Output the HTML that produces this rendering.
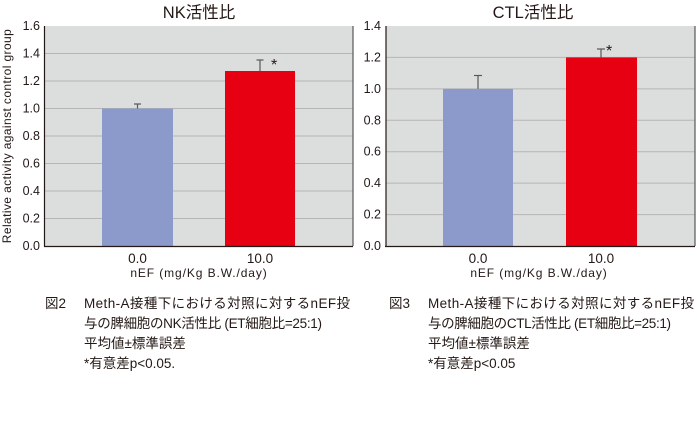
<!DOCTYPE html>
<html><head><meta charset="utf-8"><style>
body{margin:0;background:#fff;width:697px;height:422px;overflow:hidden}
svg text{font-family:"Liberation Sans","Noto Sans CJK JP",sans-serif;fill:#231815}
</style></head><body>
<svg width="697" height="422" viewBox="0 0 697 422" xmlns="http://www.w3.org/2000/svg">
<!-- Left chart -->
<rect x="45" y="26" width="308" height="220" fill="#dcdddd"/>
<g stroke="#b5b5b6" stroke-width="1">
<line x1="45" y1="53.5" x2="353" y2="53.5"/><line x1="45" y1="81" x2="353" y2="81"/>
<line x1="45" y1="108.5" x2="353" y2="108.5"/><line x1="45" y1="136" x2="353" y2="136"/>
<line x1="45" y1="163.5" x2="353" y2="163.5"/><line x1="45" y1="191" x2="353" y2="191"/>
<line x1="45" y1="218.5" x2="353" y2="218.5"/>
</g>
<line x1="353" y1="26" x2="353" y2="246" stroke="#595757" stroke-width="1.2"/>
<rect x="102" y="108.5" width="71" height="137.5" fill="#8b9acb"/>
<rect x="225" y="71" width="70" height="175" fill="#e60012"/>
<g stroke="#595757" stroke-width="1.2">
<line x1="137.5" y1="104" x2="137.5" y2="108.5"/><line x1="134" y1="104" x2="141" y2="104"/>
<line x1="260" y1="60" x2="260" y2="71"/><line x1="256.5" y1="60" x2="263.5" y2="60"/>
</g>
<text x="271" y="70" font-size="16">*</text>
<line x1="44.5" y1="26" x2="44.5" y2="246.5" stroke="#231815" stroke-width="1.2"/>
<line x1="44" y1="246.5" x2="353" y2="246.5" stroke="#231815" stroke-width="1.2"/>
<g font-size="12.5" text-anchor="end">
<text x="40" y="30">1.6</text><text x="40" y="57.5">1.4</text><text x="40" y="85">1.2</text>
<text x="40" y="112.5">1.0</text><text x="40" y="140">0.8</text><text x="40" y="167.5">0.6</text>
<text x="40" y="195">0.4</text><text x="40" y="222.5">0.2</text><text x="40" y="250">0.0</text>
</g>
<text x="199" y="18" font-size="16.5" text-anchor="middle">NK活性比</text>
<text x="137.5" y="263" font-size="13.5" text-anchor="middle">0.0</text>
<text x="260" y="263" font-size="13.5" text-anchor="middle">10.0</text>
<text x="199" y="277" font-size="12" letter-spacing="0.9" text-anchor="middle">nEF (mg/Kg B.W./day)</text>
<text transform="translate(11,136) rotate(-90)" font-size="12" letter-spacing="0.4" text-anchor="middle">Relative activity against control group</text>

<!-- Right chart -->
<rect x="386" y="26" width="309" height="220" fill="#dcdddd"/>
<g stroke="#b5b5b6" stroke-width="1">
<line x1="386" y1="57.4" x2="695" y2="57.4"/><line x1="386" y1="88.9" x2="695" y2="88.9"/>
<line x1="386" y1="120.3" x2="695" y2="120.3"/><line x1="386" y1="151.7" x2="695" y2="151.7"/>
<line x1="386" y1="183.1" x2="695" y2="183.1"/><line x1="386" y1="214.6" x2="695" y2="214.6"/>
</g>
<line x1="695" y1="26" x2="695" y2="246" stroke="#595757" stroke-width="1.2"/>
<rect x="443" y="88.9" width="70" height="157.1" fill="#8b9acb"/>
<rect x="566" y="57.4" width="71" height="188.6" fill="#e60012"/>
<g stroke="#595757" stroke-width="1.2">
<line x1="478" y1="75.5" x2="478" y2="88.9"/><line x1="474" y1="75.5" x2="482" y2="75.5"/>
<line x1="601" y1="49" x2="601" y2="57.4"/><line x1="597" y1="49" x2="605" y2="49"/>
</g>
<text x="606" y="56" font-size="16">*</text>
<line x1="386" y1="26" x2="386" y2="246.5" stroke="#231815" stroke-width="1.2"/>
<line x1="385" y1="246.5" x2="695" y2="246.5" stroke="#231815" stroke-width="1.2"/>
<g font-size="12.5" text-anchor="end">
<text x="381" y="30">1.4</text><text x="381" y="61.4">1.2</text><text x="381" y="92.9">1.0</text>
<text x="381" y="124.3">0.8</text><text x="381" y="155.7">0.6</text><text x="381" y="187.1">0.4</text>
<text x="381" y="218.6">0.2</text><text x="381" y="250">0.0</text>
</g>
<text x="533" y="18" font-size="16.5" text-anchor="middle">CTL活性比</text>
<text x="478" y="263" font-size="13.5" text-anchor="middle">0.0</text>
<text x="601" y="263" font-size="13.5" text-anchor="middle">10.0</text>
<text x="539" y="277" font-size="12" letter-spacing="0.9" text-anchor="middle">nEF (mg/Kg B.W./day)</text>

<!-- Captions -->
<g font-size="13.5">
<text x="45" y="308">図2</text>
<text x="84" y="308" textLength="266">Meth-A接種下における対照に対するnEF投</text>
<text x="84" y="328" textLength="238">与の脾細胞のNK活性比 (ET細胞比=25:1)</text>
<text x="84" y="348">平均値±標準誤差</text>
<text x="84" y="368">*有意差p&lt;0.05.</text>
<text x="389" y="308">図3</text>
<text x="428" y="308" textLength="266">Meth-A接種下における対照に対するnEF投</text>
<text x="428" y="328" textLength="243">与の脾細胞のCTL活性比 (ET細胞比=25:1)</text>
<text x="428" y="348">平均値±標準誤差</text>
<text x="428" y="368">*有意差p&lt;0.05</text>
</g>
</svg>
</body></html>
